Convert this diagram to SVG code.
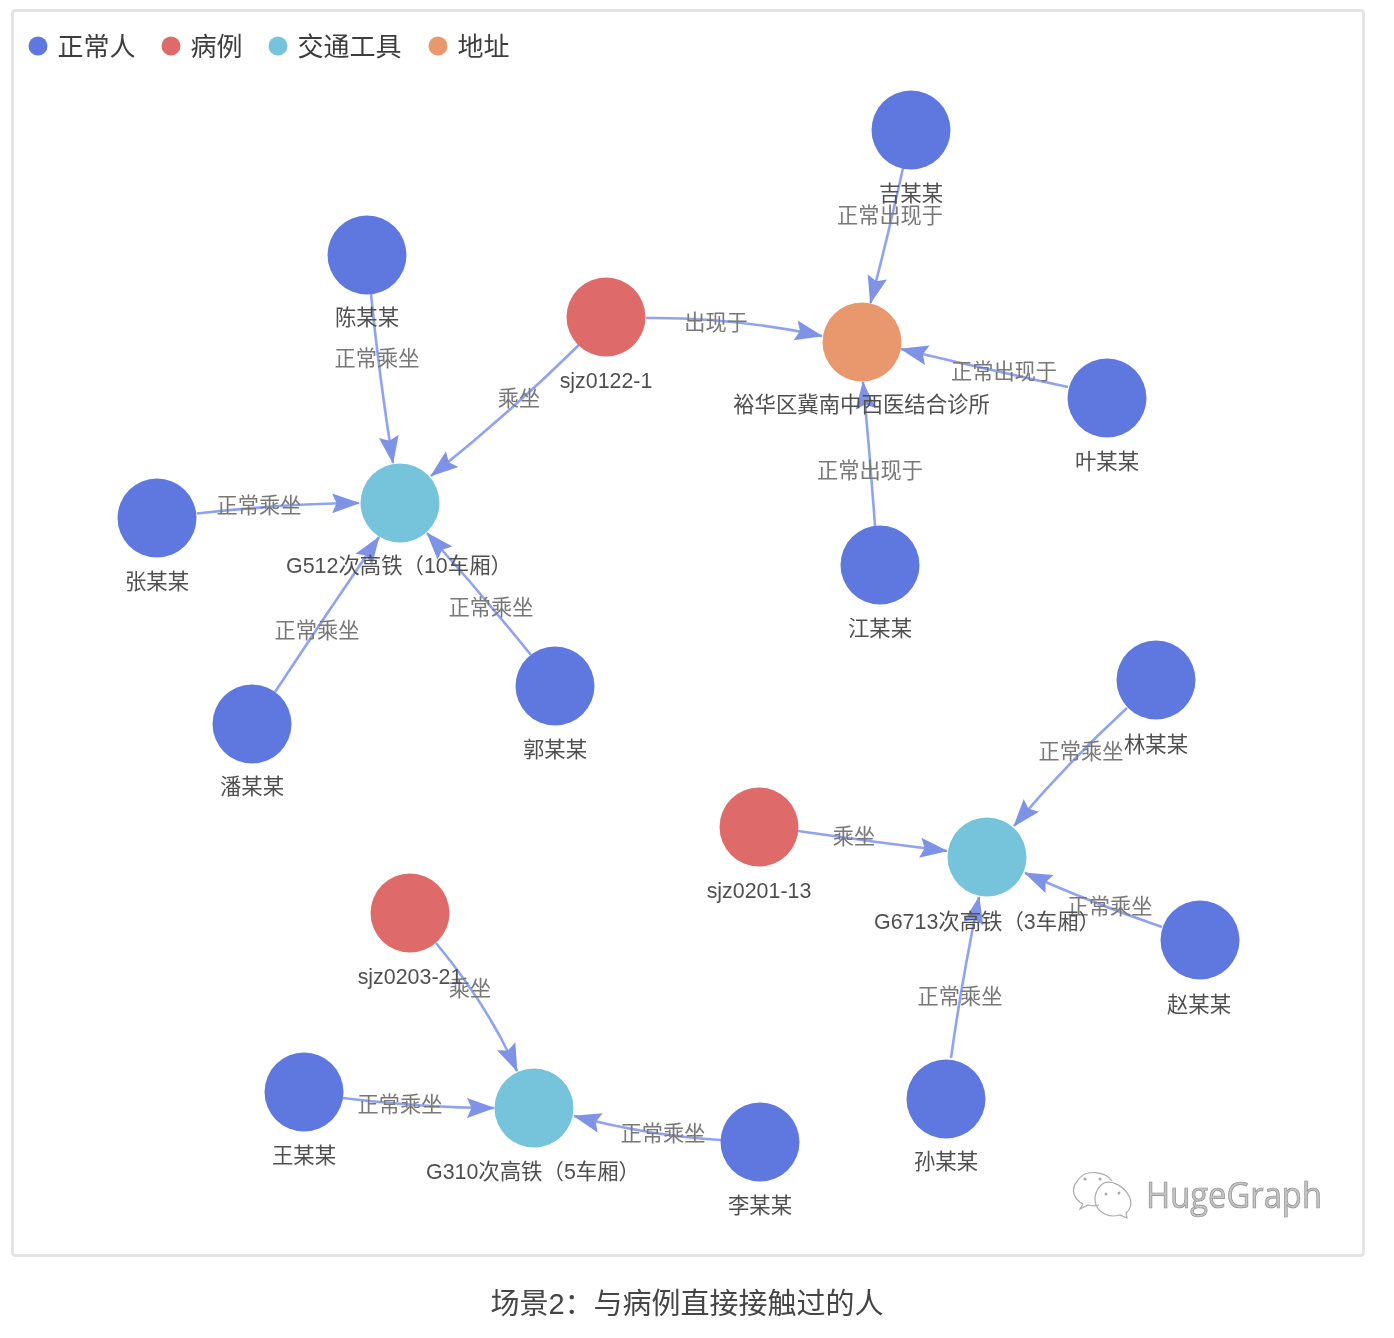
<svg xmlns="http://www.w3.org/2000/svg" width="1394" height="1338" viewBox="0 0 1394 1338">
<style>
text{font-family:"Liberation Sans","Noto Sans CJK SC",sans-serif;text-anchor:middle;dominant-baseline:central}
.p{fill:#5f78df}.c{fill:#df6b6b}.t{fill:#76c4dc}.a{fill:#e9986e}
.nl{font-size:21.4px;fill:#505050}
.el{font-size:21.2px;fill:#787878}
.lg{font-size:26px;fill:#3e3e3e;text-anchor:start}
.e{stroke:#8fa3f0;stroke-width:2.6;fill:none;marker-end:url(#arr)}
.ic{fill:none;stroke:#aaa;stroke-width:1.2}
</style>
<defs>
<marker id="arr" markerUnits="userSpaceOnUse" markerWidth="32" markerHeight="24" refX="27" refY="11" orient="auto"><path d="M0,1L28,11L0,21L4.5,11Z" fill="#7f93e6"/></marker>
<filter id="soft" x="-2%" y="-2%" width="104%" height="104%"><feGaussianBlur stdDeviation="0.65"/></filter>
</defs>
<rect width="1394" height="1338" fill="#fff"/>
<g filter="url(#soft)">
<rect x="12.5" y="10.5" width="1351" height="1245" rx="3" fill="#fff" stroke="#e3e3e3" stroke-width="3"/>
<g id="legend">
<circle class="p" cx="38" cy="46" r="9.5"/><text class="lg" x="57.5" y="47">正常人</text>
<circle class="c" cx="171" cy="46" r="9.5"/><text class="lg" x="190.5" y="47">病例</text>
<circle class="t" cx="278" cy="46" r="9.5"/><text class="lg" x="297.5" y="47">交通工具</text>
<circle class="a" cx="438" cy="46" r="9.5"/><text class="lg" x="457.5" y="47">地址</text>
</g>
<g id="connectors">
<path class="e" d="M903,168Q889,232 870.5,303"/>
<path class="e" d="M646,318Q733,317 822,336"/>
<path class="e" d="M1068,387Q985,369 901,349"/>
<path class="e" d="M875,526Q870,455 863,382"/>
<path class="e" d="M371,294Q379,375 393,463"/>
<path class="e" d="M580,344Q509,414 431,476"/>
<path class="e" d="M197,513.5Q280,504 359,503"/>
<path class="e" d="M275,692Q327,613 379,537"/>
<path class="e" d="M531,655Q481,593 427,533"/>
<path class="e" d="M1127,708Q1067,763 1014,826"/>
<path class="e" d="M798,831Q873,842 947,851"/>
<path class="e" d="M1162,927Q1092,903 1025,873"/>
<path class="e" d="M951,1058Q961,985 979,897"/>
<path class="e" d="M436,943Q489,1007 517,1071"/>
<path class="e" d="M343,1098Q425,1108 494,1108"/>
<path class="e" d="M721,1140Q650,1136 574,1116"/>
</g>
<g id="edge-labels">
<text class="el" x="890" y="215">正常出现于</text>
<text class="el" x="716" y="322">出现于</text>
<text class="el" x="1004" y="371">正常出现于</text>
<text class="el" x="870" y="470">正常出现于</text>
<text class="el" x="377" y="358">正常乘坐</text>
<text class="el" x="519" y="398">乘坐</text>
<text class="el" x="259" y="505">正常乘坐</text>
<text class="el" x="317" y="630">正常乘坐</text>
<text class="el" x="491" y="607">正常乘坐</text>
<text class="el" x="1081" y="751">正常乘坐</text>
<text class="el" x="854" y="836">乘坐</text>
<text class="el" x="1110" y="906">正常乘坐</text>
<text class="el" x="960" y="996">正常乘坐</text>
<text class="el" x="470" y="988">乘坐</text>
<text class="el" x="400" y="1104">正常乘坐</text>
<text class="el" x="663" y="1133">正常乘坐</text>
</g>
<g id="n-ji"><circle class="p" cx="911" cy="130" r="39.5"/><text class="nl" x="911" y="194">吉某某</text></g>
<g id="n-chen"><circle class="p" cx="367" cy="255" r="39.5"/><text class="nl" x="367" y="318">陈某某</text></g>
<g id="n-sjz0122"><circle class="c" cx="606" cy="317" r="39.5"/><text class="nl" x="606" y="380.5">sjz0122-1</text></g>
<g id="n-clinic"><circle class="a" cx="862" cy="342" r="39.5"/><text class="nl" x="861.5" y="405">裕华区冀南中西医结合诊所</text></g>
<g id="n-ye"><circle class="p" cx="1107" cy="398" r="39.5"/><text class="nl" x="1107" y="462">叶某某</text></g>
<g id="n-jiang"><circle class="p" cx="880" cy="565" r="39.5"/><text class="nl" x="880" y="629">江某某</text></g>
<g id="n-zhang"><circle class="p" cx="157" cy="518" r="39.5"/><text class="nl" x="157" y="582">张某某</text></g>
<g id="n-g512"><circle class="t" cx="400" cy="503" r="39.5"/><text class="nl" x="399" y="566">G512次高铁（10车厢）</text></g>
<g id="n-pan"><circle class="p" cx="252" cy="724" r="39.5"/><text class="nl" x="252" y="787">潘某某</text></g>
<g id="n-guo"><circle class="p" cx="555" cy="686" r="39.5"/><text class="nl" x="555" y="750">郭某某</text></g>
<g id="n-lin"><circle class="p" cx="1156" cy="680" r="39.5"/><text class="nl" x="1156" y="745">林某某</text></g>
<g id="n-sjz0201"><circle class="c" cx="759" cy="827" r="39.5"/><text class="nl" x="759" y="890.5">sjz0201-13</text></g>
<g id="n-g6713"><circle class="t" cx="987" cy="857" r="39.5"/><text class="nl" x="987" y="922">G6713次高铁（3车厢）</text></g>
<g id="n-zhao"><circle class="p" cx="1200" cy="940" r="39.5"/><text class="nl" x="1199" y="1005">赵某某</text></g>
<g id="n-sun"><circle class="p" cx="946" cy="1099" r="39.5"/><text class="nl" x="946" y="1162">孙某某</text></g>
<g id="n-sjz0203"><circle class="c" cx="410" cy="913" r="39.5"/><text class="nl" x="410" y="977">sjz0203-21</text></g>
<g id="n-g310"><circle class="t" cx="534" cy="1108" r="39.5"/><text class="nl" x="533" y="1172">G310次高铁（5车厢）</text></g>
<g id="n-wang"><circle class="p" cx="304" cy="1092" r="39.5"/><text class="nl" x="304" y="1156">王某某</text></g>
<g id="n-li"><circle class="p" cx="760" cy="1142" r="39.5"/><text class="nl" x="760" y="1206">李某某</text></g>
<g id="watermark">
<path class="ic" d="M1112,1181C1106,1172 1086,1168 1078,1180C1069,1190 1075,1200 1083,1204L1080,1209L1088,1205C1092,1206 1096,1206 1099,1205"/>
<path class="ic" d="M1104,1183C1112,1180 1124,1186 1129,1196C1133,1204 1130,1210 1126,1213L1127,1218L1120,1215C1110,1218 1100,1214 1096,1205C1093,1197 1097,1187 1104,1183Z"/>
<circle cx="1085" cy="1179" r="1.5" fill="#aaa"/><circle cx="1100" cy="1179" r="1.5" fill="#aaa"/><circle cx="1106" cy="1194" r="1.5" fill="#aaa"/><circle cx="1119" cy="1193" r="1.5" fill="#aaa"/>
<text x="1234" y="1194" font-size="36" style="font-family:'Open Sans','Liberation Sans',sans-serif" fill="#c4c4c4" stroke="#8a8a8a" stroke-width="0.7" textLength="176" lengthAdjust="spacingAndGlyphs">HugeGraph</text>
</g>
</g>
<g id="caption"><text x="687" y="1304" font-size="29" fill="#444" filter="url(#soft)">场景2：与病例直接接触过的人</text></g>
</svg>
